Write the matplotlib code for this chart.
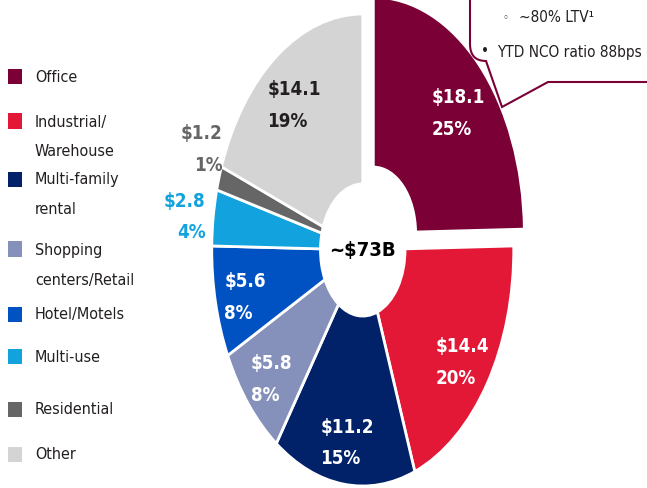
import numpy as np
import matplotlib.pyplot as plt
from matplotlib.patches import Rectangle, PathPatch
from matplotlib.path import Path

plt.rcParams['font.family'] = ['DejaVu Sans']
plt.rcParams['font.stretch'] = 'condensed'

# CRE loan balances by property type, $B
categories = ['Office', 'Industrial/\nWarehouse', 'Multi-family\nrental', 'Shopping\ncenters/Retail',
              'Hotel/Motels', 'Multi-use', 'Residential', 'Other']
balances = [18.1, 14.4, 11.2, 5.8, 5.6, 2.8, 1.2, 14.1]
shares = [25, 20, 15, 8, 8, 4, 1, 19]
colors = ['#7a0035', '#e31837', '#012169', '#8591bb', '#0052c2', '#12a3de', '#666666', '#d4d4d4']
label_colors = ['white', 'white', 'white', 'white', 'white', '#12a3de', '#666666', '#231f20']
total_label = '~$73B'
callout_lines = ['~80% LTV\u00b9', 'YTD NCO ratio 88bps']

W, H = 647, 489
fig = plt.figure(figsize=(W / 100, H / 100), dpi=100)


def fx(px):
    return px / W


def fy(py):
    return 1 - py / H


# donut (the axes is stretched vertically on purpose)
ax = fig.add_axes([fx(174), fy(546), 377.5 / W, 590 / H])
explode = [0.1] + [0] * (len(balances) - 1)
wedges, _ = ax.pie(balances, colors=colors, startangle=90, counterclock=False,
                   explode=explode, radius=1,
                   wedgeprops=dict(width=0.72, edgecolor='white', linewidth=2))
ax.set_aspect('auto')
ax.set_xlim(-1.25, 1.25)
ax.set_ylim(-1.25, 1.25)
ax.axis('off')

# small shifts so the labels don't collide
label_nudge = [(0, -0.06), (0, -0.02), (0, -0.02), (0, -0.02), (0, -0.02),
               (0, 0), (0.07, 0.11), (0, -0.04)]
for i, w in enumerate(wedges):
    mid = np.deg2rad((w.theta1 + w.theta2) / 2)
    cx, cy = w.center
    dx, dy = label_nudge[i]
    txt = f'${balances[i]}\n{shares[i]}%'
    outside = shares[i] < 5
    r = 1.05 if outside else 0.8
    ax.text(cx + r * np.cos(mid) + dx, cy + r * np.sin(mid) + dy, txt,
            ha='right' if outside else 'center', va='center',
            multialignment='right' if outside else 'left', fontsize=13.5,
            fontweight='bold', color=label_colors[i], linespacing=1.85)

ax.text(0, 0, total_label, ha='center', va='center', fontsize=14.5,
        fontweight='bold', color='black')

# legend on the left, second lines sit 30 px under the first
row_y = [77, 122, 180, 250, 315, 357, 410, 455]
for name, col, y in zip(categories, colors, row_y):
    fig.add_artist(Rectangle((fx(8), fy(y + 7.5)), 14 / W, 15 / H,
                             transform=fig.transFigure, color=col, lw=0))
    for k, line in enumerate(name.split('\n')):
        fig.text(fx(35), fy(y + 30 * k), line, ha='left', va='center',
                 fontsize=11.5, color='#231f20')

# speech bubble in the upper right
pts = [(470, -5), (470, 45), (470, 62), (486, 62), (502, 108), (548, 83),
       (652, 83), (652, -5), (470, -5)]
codes = [Path.MOVETO, Path.LINETO, Path.CURVE3, Path.CURVE3, Path.LINETO,
         Path.LINETO, Path.LINETO, Path.LINETO, Path.CLOSEPOLY]
verts = [(fx(x), fy(y)) for x, y in pts]
bubble = PathPatch(Path(verts, codes), facecolor='white', edgecolor=colors[0],
                   lw=1.5, transform=fig.transFigure, zorder=5)
fig.add_artist(bubble)

fig.text(fx(505), fy(18), '\u25e6', ha='center', va='center', fontsize=8,
         color='#231f20', zorder=6)
fig.text(fx(519), fy(18), callout_lines[0], ha='left', va='center', fontsize=11,
         color='#231f20', zorder=6)
fig.text(fx(485), fy(52), '\u2022', ha='center', va='center', fontsize=11,
         color='#231f20', zorder=6)
fig.text(fx(497), fy(52), callout_lines[1], ha='left', va='center', fontsize=11,
         color='#231f20', zorder=6)

fig.savefig('out.png', dpi=100)
